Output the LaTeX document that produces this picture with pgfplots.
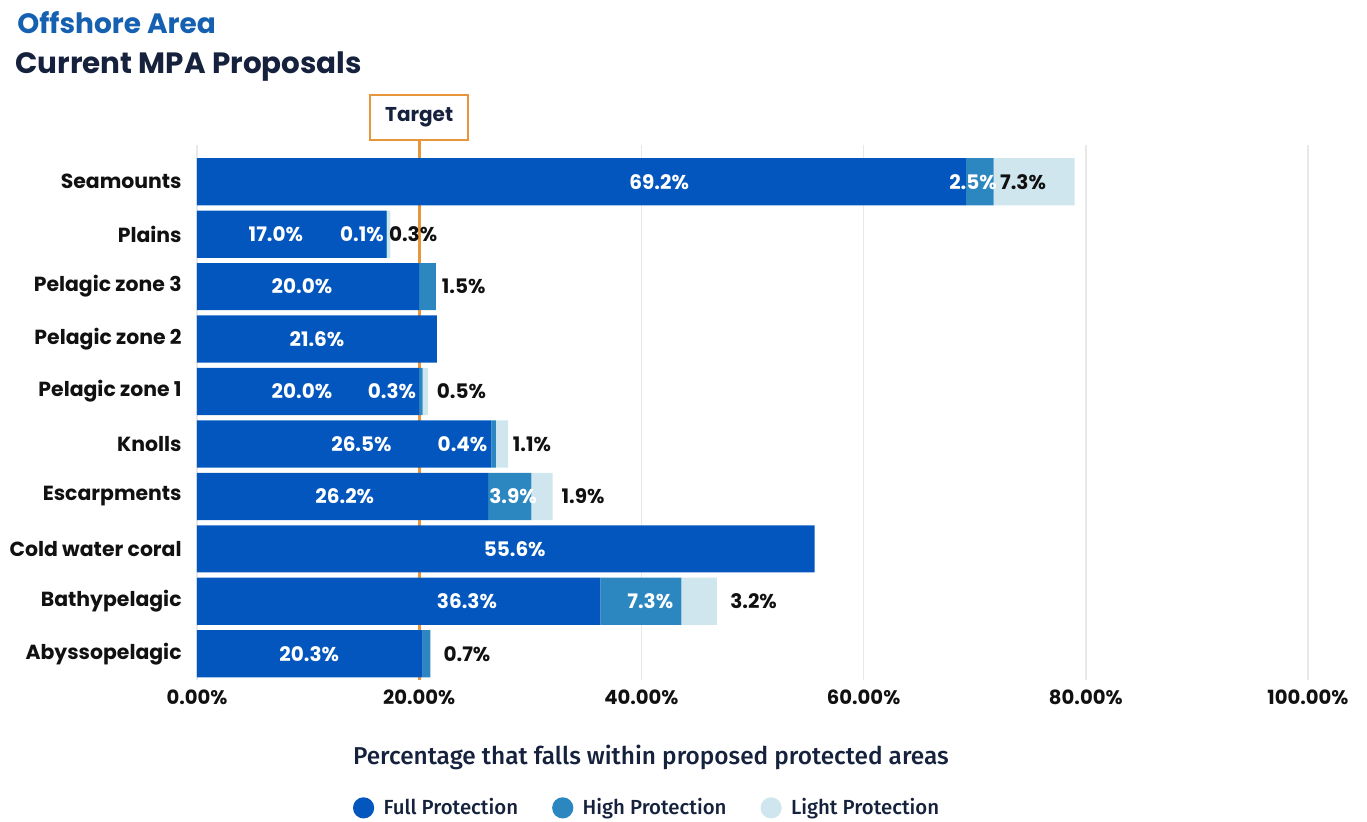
\documentclass[border=0pt]{standalone}
\usepackage{fontspec}
\setmainfont{Poppins}
\newfontfamily\fira{Fira Sans Medium}
\usepackage{pgfplots}
\pgfplotsset{compat=1.18}
\definecolor{fullc}{HTML}{0356BE}
\definecolor{highc}{HTML}{2C86C0}
\definecolor{lightc}{HTML}{CFE6EF}
\definecolor{titleblue}{HTML}{1560B0}
\definecolor{navy}{HTML}{16223D}
\definecolor{targetc}{HTML}{E8963C}
\definecolor{txt}{HTML}{111111}

\pgfplotstableread{
y full high light
0 20.3 0.7 0
1 36.3 7.3 3.2
2 55.6 0 0
3 26.2 3.9 1.9
4 26.5 0.4 1.1
5 20.0 0.3 0.5
6 21.6 0 0
7 20.0 1.5 0
8 17.0 0.1 0.3
9 69.2 2.5 7.3
}\bars

\pgfplotstableread{
x y lab
41.6 9 69.2
7.1 8 17.0
9.45 7 20.0
10.8 6 21.6
9.45 5 20.0
14.8 4 26.5
13.3 3 26.2
28.6 2 55.6
24.3 1 36.3
10.1 0 20.3
69.85 9 2.5
14.85 8 0.1
17.55 5 0.3
23.9 4 0.4
28.45 3 3.9
40.8 1 7.3
}\whitelabels

\pgfplotstableread{
x y lab
74.35 9 7.3
19.45 8 0.3
24.0 7 1.5
23.8 5 0.5
30.15 4 1.1
34.75 3 1.9
50.1 1 3.2
24.3 0 0.7
}\blacklabels

\pgfplotsset{
  common/.style={
    width=555.5pt, height=267.5pt, scale only axis,
    xmin=0, xmax=100, ymin=-0.5, ymax=9.7,
    at={(98.5pt,70.5pt)}, anchor=south west,
  }
}

\begin{document}
\begin{tikzpicture}
\useasboundingbox (0,0) rectangle (683.5pt,410.5pt);
\node[anchor=west, inner sep=0pt, text=titleblue, font=\bfseries\fontsize{14}{16}\selectfont] at (8.5pt,399pt) {Offshore Area};
\node[anchor=west, inner sep=0pt, text=navy, font=\bfseries\fontsize{14.7}{16}\selectfont] at (7.5pt,377pt) {Current MPA Proposals};

\begin{axis}[common,
  xbar stacked, bar width=0.9,
  axis line style={draw=none},
  major tick length=0pt,
  xtick={0,20,40,60,80,100},
  xticklabels={0.00\%,20.00\%,40.00\%,60.00\%,80.00\%,100.00\%},
  ytick={0,...,9},
  yticklabels={Abyssopelagic,Bathypelagic,Cold water coral,Escarpments,Knolls,Pelagic zone 1,Pelagic zone 2,Pelagic zone 3,Plains,Seamounts},
  xticklabel style={inner sep=0pt, yshift=-4.5pt, text=txt, font=\bfseries\fontsize{9.8}{11}\selectfont},
  yticklabel style={inner sep=0pt, xshift=-7.5pt, text=txt, font=\bfseries\fontsize{10.2}{11}\selectfont},
  xmajorgrids, grid style={draw=black!9, line width=0.8pt},
  xlabel={Percentage that falls within proposed protected areas},
  xlabel style={at={(axis description cs:0.4086,-0.144)}, anchor=center, text=navy, font=\fira\fontsize{12.2}{14}\selectfont},
  legend style={at={(axis description cs:0.406,-0.239)}, anchor=center, draw=none, fill=none,
    legend columns=3, font=\fira\fontsize{10.2}{12}\selectfont, text=navy,
    /tikz/every even column/.append style={column sep=15pt}},
  legend cell align=left,
  clip=false,
]
\addplot[fill=fullc, draw=none, legend image code/.code={\fill[fullc] (0,0) circle (5.3pt); \path (8pt,0);}] table[x=full,y=y] {\bars};
\addlegendentry{Full Protection}
\addplot[fill=highc, draw=none, legend image code/.code={\fill[highc] (0,0) circle (5.3pt); \path (8pt,0);}] table[x=high,y=y] {\bars};
\addlegendentry{High Protection}
\addplot[fill=lightc, draw=none, legend image code/.code={\fill[lightc] (0,0) circle (5.3pt); \path (8pt,0);}] table[x=light,y=y] {\bars};
\addlegendentry{Light Protection}
\draw[targetc, line width=1.6pt] (axis cs:20,-0.5) -- (axis cs:20,9.8);
\node[draw=targetc, line width=1pt, fill=white, minimum width=49pt, minimum height=22.5pt, inner sep=0pt, text=navy, font=\bfseries\fontsize{10}{11}\selectfont] at (axis cs:20,10.23) {Target};
\end{axis}

\begin{axis}[common, hide axis, clip=false]
\addplot[only marks, mark=none, nodes near coords={\pgfplotspointmeta\%}, point meta=explicit symbolic,
  nodes near coords style={anchor=center, text=white, font=\bfseries\fontsize{10}{11}\selectfont}]
  table[x=x,y=y,meta=lab] {\whitelabels};
\addplot[only marks, mark=none, nodes near coords={\pgfplotspointmeta\%}, point meta=explicit symbolic,
  nodes near coords style={anchor=center, text=txt, font=\bfseries\fontsize{10}{11}\selectfont}]
  table[x=x,y=y,meta=lab] {\blacklabels};
\end{axis}
\end{tikzpicture}
\end{document}
